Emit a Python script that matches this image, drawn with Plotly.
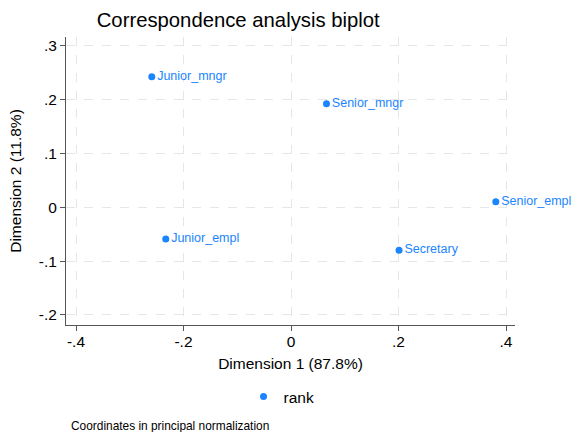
import plotly.graph_objects as go

labels = ["Junior_mngr", "Senior_mngr", "Senior_empl", "Junior_empl", "Secretary"]
dim1 = [-0.259, 0.066, 0.381, -0.233, 0.201]
dim2 = [0.242, 0.192, 0.010, -0.059, -0.080]

xticks = [-0.4, -0.2, 0, 0.2, 0.4]
xticktext = ["-.4", "-.2", "0", ".2", ".4"]
yticks = [-0.2, -0.1, 0, 0.1, 0.2, 0.3]
yticktext = ["-.2", "-.1", "0", ".1", ".2", ".3"]

blue = "#1a85ff"
font = "Liberation Sans, Arial, sans-serif"

fig = go.Figure()
fig.add_trace(go.Scatter(
    x=dim1, y=dim2, mode="markers+text", text=labels,
    textposition="middle right", name="rank", cliponaxis=False,
    marker=dict(color=blue, size=7),
    textfont=dict(color=blue, size=12.5, family=font),
))

axis_common = dict(
    showgrid=True, gridcolor="#e6e6e6", griddash="dash", gridwidth=1,
    zeroline=False, showline=True, linecolor="#555555", linewidth=1,
    ticks="outside", ticklen=5, tickcolor="#555555",
    tickfont=dict(size=15.5, color="#000000", family=font),
    mirror=False, automargin=False,
)

fig.update_layout(
    width=574, height=432,
    margin=dict(l=66, r=59, t=37, b=107, autoexpand=False),
    paper_bgcolor="white", plot_bgcolor="white",
    font=dict(family=font, color="#000000"),
    title=dict(text="Correspondence analysis biplot", x=0.415, xanchor="center",
               y=0.955, yanchor="middle", font=dict(size=20.3, color="#000000"),
               automargin=False),
    xaxis=dict(range=[-0.4186, 0.4167], tickvals=xticks, ticktext=xticktext,
               ticklabelstandoff=-3,
               title=dict(text="Dimension 1 (87.8%)", font=dict(size=15.5), standoff=9),
               **axis_common),
    yaxis=dict(range=[-0.2186, 0.316], tickvals=yticks, ticktext=yticktext,
               title=dict(text="Dimension 2 (11.8%)", font=dict(size=15.5), standoff=13),
               **axis_common),
    showlegend=True,
    legend=dict(orientation="h", x=0.48, xanchor="center", y=-0.25, yanchor="middle",
                font=dict(size=15.5), itemsizing="trace"),
    annotations=[dict(text="Coordinates in principal normalization", xref="paper", yref="paper",
                      x=0.0, xanchor="left", y=-0.35, yanchor="middle", showarrow=False,
                      font=dict(size=11.9, color="#000000"), xshift=3)],
)

fig.write_html("out.html", config={"responsive": False, "displayModeBar": False},
               post_script="document.body.style.margin='0';document.body.style.padding='0';")
